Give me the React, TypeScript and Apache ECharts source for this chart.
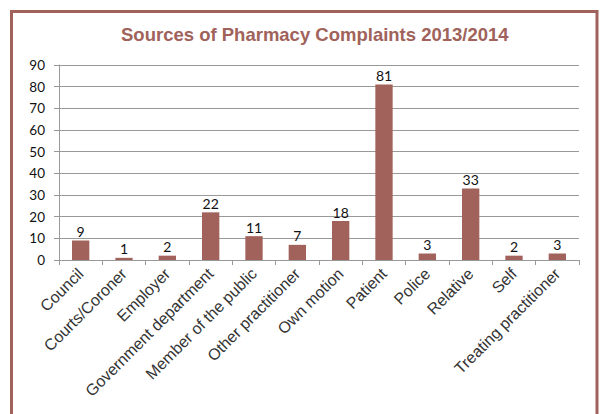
import React, { useEffect, useRef } from "react";
import * as echarts from "echarts";

const categories = [
  "Council",
  "Courts/Coroner",
  "Employer",
  "Government department",
  "Member of the public",
  "Other practitioner",
  "Own motion",
  "Patient",
  "Police",
  "Relative",
  "Self",
  "Treating practitioner",
];
const complaints = [9, 1, 2, 22, 11, 7, 18, 81, 3, 33, 2, 3];
const yTicks = [0, 10, 20, 30, 40, 50, 60, 70, 80, 90];

export default function App() {
  const ref = useRef<HTMLDivElement>(null);
  useEffect(() => {
    if (!ref.current) return;
    const chart = echarts.init(ref.current, null, { renderer: "svg" });
    const brand = "#a0625a";
    chart.setOption({
      animation: false,
      backgroundColor: "#ffffff",
      title: {
        text: "Sources of Pharmacy Complaints 2013/2014",
        left: 116,
        top: 20,
        textStyle: {
          fontFamily: "Liberation Sans, Arial, sans-serif",
          fontSize: 18.5,
          fontWeight: "bold",
          color: brand,
        },
      },
      graphic: [
        {
          type: "rect",
          shape: { x: 11.5, y: 11.5, width: 585.5, height: 440 },
          style: { fill: "none", stroke: brand, lineWidth: 3 },
          silent: true,
        },
      ],
      grid: { left: 59, right: 22, top: 65, bottom: 154, containLabel: false },
      xAxis: {
        type: "category",
        data: categories,
        axisLine: { show: true, lineStyle: { color: "#999", width: 1 } },
        axisTick: { show: true, alignWithLabel: false, length: 5, lineStyle: { color: "#999" } },
        axisLabel: {
          interval: 0,
          rotate: 45,
          margin: 11,
          fontFamily: "Liberation Sans, Arial, sans-serif",
          fontSize: 16,
          color: "#333",
        },
      },
      yAxis: {
        type: "value",
        min: yTicks[0],
        max: yTicks[yTicks.length - 1],
        interval: 10,
        axisLine: { show: true, lineStyle: { color: "#999", width: 1 } },
        axisTick: { show: true, length: 5, lineStyle: { color: "#999" } },
        splitLine: { show: true, lineStyle: { color: "#999", width: 1 } },
        axisLabel: {
          margin: 14,
          fontFamily: "Lato, Open Sans, sans-serif",
          fontSize: 13.5,
          color: "#111",
        },
      },
      series: [
        {
          type: "bar",
          data: complaints,
          barWidth: "40%",
          itemStyle: { color: brand },
          label: {
            show: true,
            position: "top",
            distance: 2,
            fontFamily: "Lato, Open Sans, sans-serif",
            fontSize: 14,
            color: "#111",
          },
        },
      ],
    });
    return () => chart.dispose();
  }, []);
  return (
    <div
      ref={ref}
      style={{ position: "absolute", left: 0, top: 0, width: 601, height: 414 }}
    />
  );
}
